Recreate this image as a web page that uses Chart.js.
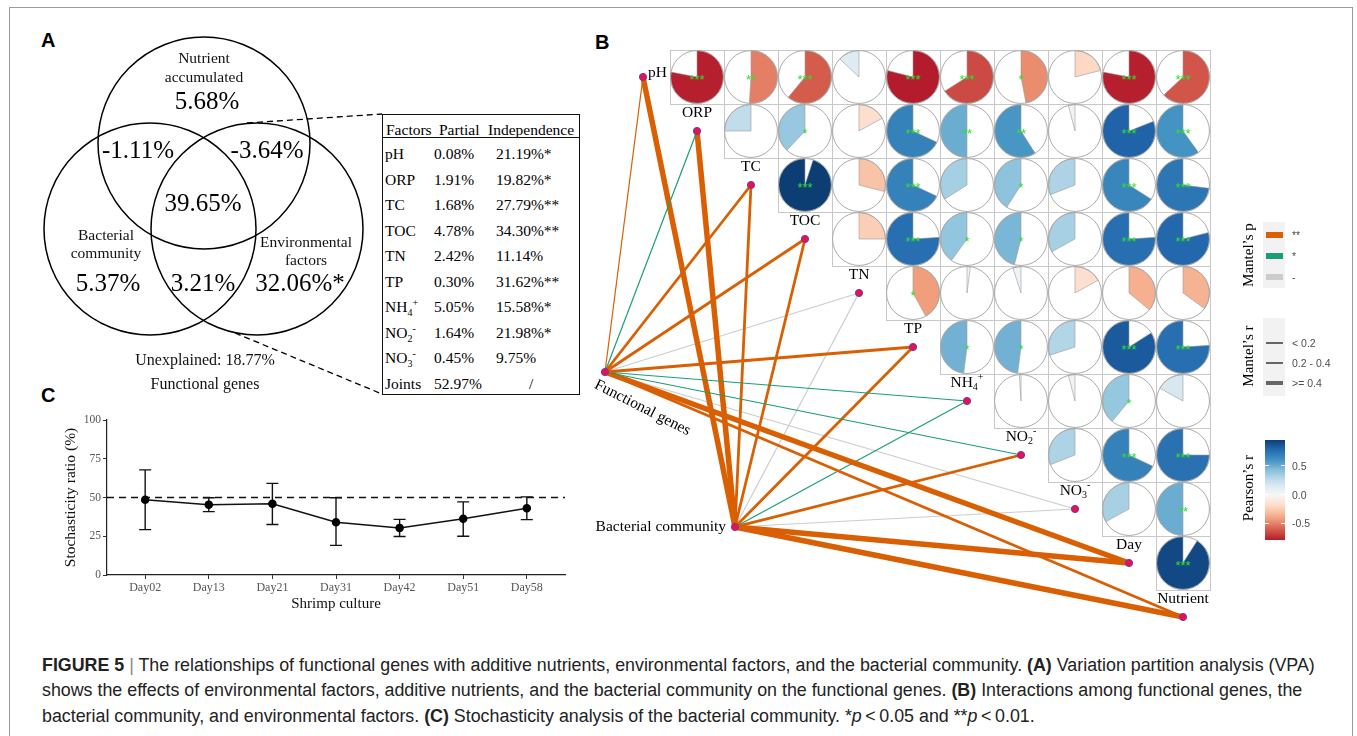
<!DOCTYPE html>
<html>
<head>
<meta charset="utf-8">
<title>Figure 5</title>
<script src="https://cdn.jsdelivr.net/npm/chart.js@4.4.1/dist/chart.umd.min.js"></script>
<style>
  html, body { margin: 0; padding: 0; background: #fff; }
  body { width: 1357px; height: 736px; position: relative; overflow: hidden; font-family: "Liberation Serif", "Times New Roman", serif; color: #000; }
  .abs { position: absolute; }
  #frame { left: 9px; top: 7px; width: 1344px; height: 800px; border: 1px solid #9b9b9b; box-sizing: border-box; }
  .panel { position: absolute; font: bold 20px "Liberation Sans", Arial, sans-serif; line-height: 20px; }
  #tbl { left: 382px; top: 114px; width: 198px; height: 281px; border: 1.4px solid #111; box-sizing: border-box; font-size: 15.5px; background: #fff; }
  #tbl .cell { position: absolute; white-space: nowrap; line-height: 20px; height: 20px; }
  #tbl .rule { position: absolute; left: 0; right: 0; top: 22px; border-top: 1px solid #111; }
  .sb { font-size: 10px; position: relative; top: 4px; }
  .sp { font-size: 10px; position: relative; top: -6px; }
  canvas { position: absolute; }
  .lgt { position: absolute; white-space: nowrap; font-size: 15px; line-height: 16px; transform: translate(-50%, -50%) rotate(-90deg); }
  .lgl { position: absolute; white-space: nowrap; font: 10.5px "Liberation Sans", Arial, sans-serif; color: #4d4d4d; line-height: 12px; }
  .lgbg { position: absolute; background: #f2f2f2; }
  .cap { position: absolute; left: 42px; white-space: nowrap; font: 16px "Liberation Sans", Arial, sans-serif; color: #222; line-height: 20px; }
</style>
</head>
<body>
<div id="frame" class="abs"></div>
<div class="panel" style="left:41px;top:30px">A</div>
<div class="panel" style="left:595px;top:32px">B</div>
<div class="panel" style="left:41px;top:385px">C</div>

<canvas id="chartA" width="360" height="380" style="left:30px;top:30px"></canvas>
<div id="tbl" class="abs"></div>
<canvas id="chartB" width="777" height="610" style="left:580px;top:30px"></canvas>
<canvas id="chartC" width="535" height="215" style="left:40px;top:405px"></canvas>
<div id="legendB"></div>
<div id="caption"></div>

<script>
// ---- panel A : variation partitioning ----
const vennRegions = ['N', 'NB', 'NE', 'NBE', 'B', 'BE', 'E'];
const vennPercent = ['5.68%', '-1.11%', '-3.64%', '39.65%', '5.37%', '3.21%', '32.06%*'];
const vennSetNames = [['Nutrient', 'accumulated'], ['Bacterial', 'community'], ['Environmental', 'factors']];
const unexplained = 'Unexplained: 18.77%';
const responseName = 'Functional genes';

const factorNames = ['pH', 'ORP', 'TC', 'TOC', 'TN', 'TP', 'NH4+', 'NO2-', 'NO3-', 'Joints'];
const partialVals = ['0.08%', '1.91%', '1.68%', '4.78%', '2.42%', '0.30%', '5.05%', '1.64%', '0.45%', '52.97%'];
const independenceVals = ['21.19%*', '19.82%*', '27.79%**', '34.30%**', '11.14%', '31.62%**', '15.58%*', '21.98%*', '9.75%', '/'];

// ---- panel B : Mantel test + Pearson correlogram ----
const envVars = ['pH', 'ORP', 'TC', 'TOC', 'TN', 'TP', 'NH4+', 'NO2-', 'NO3-', 'Day', 'Nutrient'];
// upper triangle, row i holds r(i, j) for j > i
const pearsonRows = [
  [-0.78, -0.51, -0.61, 0.13, -0.79, -0.66, -0.47, -0.21, -0.78, -0.63],
  [0.25, 0.38, -0.17, 0.68, 0.50, 0.59, 0.04, 0.81, 0.60],
  [0.95, -0.29, 0.68, 0.34, 0.41, 0.31, 0.66, 0.73],
  [-0.25, 0.76, 0.40, 0.46, 0.33, 0.76, 0.79],
  [-0.42, -0.02, 0.05, -0.17, -0.36, -0.35],
  [0.48, 0.48, 0.30, 0.84, 0.76],
  [0.01, 0.04, 0.39, 0.17],
  [0.31, 0.68, 0.75],
  [0.33, 0.50],
  [0.91]
];
const pearsonStars = [
  ['***', '**', '***', '', '***', '***', '*', '', '***', '***'],
  ['', '*', '', '***', '**', '**', '', '***', '***'],
  ['***', '', '***', '', '*', '', '***', '***'],
  ['', '***', '*', '*', '', '***', '***'],
  ['*', '', '', '', '', ''],
  ['*', '*', '', '***', '***'],
  ['', '', '*', ''],
  ['', '***', '***'],
  ['', '**'],
  ['***']
];
const fgMantelP = ['**', '*', '**', '**', '-', '**', '*', '*', '-', '**', '**'];
const fgMantelR = ['<0.2', '<0.2', '0.2-0.4', '0.2-0.4', '<0.2', '0.2-0.4', '<0.2', '<0.2', '<0.2', '>=0.4', '0.2-0.4'];
const bcMantelP = ['**', '**', '**', '**', '-', '**', '*', '**', '-', '**', '**'];
const bcMantelR = ['>=0.4', '>=0.4', '0.2-0.4', '0.2-0.4', '<0.2', '0.2-0.4', '<0.2', '0.2-0.4', '<0.2', '>=0.4', '>=0.4'];
const mantelPLevels = ['**', '*', '-'];
const mantelRLevels = ['<0.2', '0.2-0.4', '>=0.4'];
const mantelRLabels = ['< 0.2', '0.2 - 0.4', '>= 0.4'];
const pearsonTicks = [0.5, 0.0, -0.5];

// ---- panel C : stochasticity ----
const days = ['Day02', 'Day13', 'Day21', 'Day31', 'Day42', 'Day51', 'Day58'];
const stochMean = [48.5, 45.4, 45.9, 34.1, 30.4, 36.3, 43.0];
const stochUpper = [67.8, 49.8, 59.1, 49.8, 35.9, 47.2, 50.4];
const stochLower = [29.3, 40.9, 32.6, 19.1, 24.8, 25.0, 35.7];
const refLevel = 50;

Chart.defaults.font.family = '"Liberation Serif", "Times New Roman", serif';
Chart.defaults.color = '#000';

const SERIF = '"Liberation Serif", "Times New Roman", serif';
const SANS = '"Liberation Sans", Arial, sans-serif';

const rdbu = [[-1, '#67001f'], [-0.8, '#b2182b'], [-0.6, '#d6604d'], [-0.4, '#f4a582'], [-0.2, '#fddbc7'], [0, '#f7f7f7'],
  [0.2, '#d1e5f0'], [0.4, '#92c5de'], [0.6, '#4393c3'], [0.8, '#2166ac'], [1, '#053061']];
function hex2rgb(h) { return [1, 3, 5].map(i => parseInt(h.substr(i, 2), 16)); }
function corrColor(r) {
  r = Math.max(-1, Math.min(1, r));
  for (let i = 0; i < rdbu.length - 1; i++) {
    const [a, ca] = rdbu[i], [b, cb] = rdbu[i + 1];
    if (r <= b) {
      const t = (r - a) / (b - a), A = hex2rgb(ca), B = hex2rgb(cb);
      return 'rgb(' + A.map((v, k) => Math.round(v + (B[k] - v) * t)).join(',') + ')';
    }
  }
  return rdbu[rdbu.length - 1][1];
}

function richSegs(name) {
  const m = name.match(/^([A-Za-z]+)(\d)([+-])$/);
  if (!m) return [{ t: name }];
  return [{ t: m[1] }, { t: m[2], sub: true }, { t: m[3], sup: true }];
}
function richHTML(name) {
  const m = name.match(/^([A-Za-z]+)(\d)([+-])$/);
  if (!m) return name;
  return m[1] + '<span class="sb">' + m[2] + '</span><span class="sp">' + m[3] + '</span>';
}
function drawRich(ctx, name, x, y, size, align) {
  const segs = richSegs(name);
  const big = size + 'px ' + SERIF, small = Math.round(size * 0.66) + 'px ' + SERIF;
  let w = 0;
  segs.forEach(s => { ctx.font = (s.sub || s.sup) ? small : big; s.w = ctx.measureText(s.t).width; w += s.w; });
  let cx = align === 'center' ? x - w / 2 : align === 'right' ? x - w : x;
  ctx.textAlign = 'left';
  ctx.textBaseline = 'middle';
  segs.forEach(s => {
    ctx.font = (s.sub || s.sup) ? small : big;
    ctx.fillText(s.t, cx, y + (s.sub ? size * 0.3 : s.sup ? -size * 0.36 : 0));
    cx += s.w;
  });
}

// ================= Panel A =================
const vennLayout = {
  circles: [[204, 143], [150, 229], [257, 229]], radius: 106,
  valuePos: { N: [207, 102], NB: [138, 151], NE: [267, 151], NBE: [203, 204], B: [108, 284], BE: [203, 284], E: [300, 284] },
  namePos: [[[204, 59], [204, 78]], [[106, 236], [106, 254]], [[306, 243], [306, 261]]],
  dashes: [[[247, 123], [382, 114]], [[235, 333], [382, 394]]]
};

const vennPlugin = {
  id: 'venn',
  afterDraw(chart) {
    const { ctx, scales: { x, y } } = chart;
    const px = v => x.getPixelForValue(v), py = v => y.getPixelForValue(v);
    const rad = px(vennLayout.radius) - px(0);
    ctx.save();
    ctx.strokeStyle = '#000';
    ctx.lineWidth = 1.5;
    vennLayout.circles.forEach(([cx, cy]) => {
      ctx.beginPath();
      ctx.arc(px(cx), py(cy), rad, 0, Math.PI * 2);
      ctx.stroke();
    });
    ctx.setLineDash([6, 4]);
    ctx.lineWidth = 1.3;
    vennLayout.dashes.forEach(([a, b]) => {
      ctx.beginPath();
      ctx.moveTo(px(a[0]), py(a[1]));
      ctx.lineTo(px(b[0]), py(b[1]));
      ctx.stroke();
    });
    ctx.setLineDash([]);
    ctx.fillStyle = '#000';
    ctx.textAlign = 'center';
    ctx.textBaseline = 'middle';
    ctx.font = '25px ' + SERIF;
    vennRegions.forEach((reg, i) => {
      const [vx, vy] = vennLayout.valuePos[reg];
      ctx.fillText(vennPercent[i], px(vx), py(vy));
    });
    ctx.font = '15.5px ' + SERIF;
    ctx.fillStyle = '#111';
    vennSetNames.forEach((lines, i) => lines.forEach((t, k) => {
      const [tx, ty] = vennLayout.namePos[i][k];
      ctx.fillText(t, px(tx), py(ty));
    }));
    ctx.font = '16px ' + SERIF;
    ctx.fillText(unexplained, px(205), py(361));
    ctx.fillText(responseName, px(205), py(385));
    ctx.restore();
  }
};

new Chart(document.getElementById('chartA'), {
  type: 'scatter',
  data: { datasets: [] },
  options: {
    responsive: false, animation: false, events: [],
    layout: { padding: 0, autoPadding: false },
    plugins: { legend: { display: false }, tooltip: { enabled: false } },
    scales: {
      x: { display: false, min: 30, max: 390 },
      y: { display: false, min: 30, max: 410, reverse: true }
    }
  },
  plugins: [vennPlugin]
});

// table
(function () {
  const tbl = document.getElementById('tbl');
  let html = '<div class="rule"></div>';
  html += '<div class="cell" style="left:3px;top:5px">Factors</div>';
  html += '<div class="cell" style="left:56px;top:5px">Partial</div>';
  html += '<div class="cell" style="left:105px;top:5px">Independence</div>';
  factorNames.forEach((f, i) => {
    const top = 29 + 25.5 * i;
    html += '<div class="cell" style="left:2px;top:' + top + 'px">' + richHTML(f) + '</div>';
    html += '<div class="cell" style="left:51px;top:' + top + 'px">' + partialVals[i] + '</div>';
    const iv = independenceVals[i];
    html += iv === '/'
      ? '<div class="cell" style="left:146px;top:' + top + 'px">/</div>'
      : '<div class="cell" style="left:113px;top:' + top + 'px">' + iv + '</div>';
  });
  tbl.innerHTML = html;
})();

// ================= Panel B =================
const cell = 54;                         // px per grid unit
const originB = { x: 63, y: 47 };          // canvas px of grid unit (0,0)
const nodeFG = { x: -0.704, y: 5.463 };
const nodeBC = { x: 1.704, y: 8.333 };
const edgeColor = { '**': '#d95f02', '*': '#1b9e77', '-': '#cccccc' };
const edgeWidth = { '<0.2': 1.2, '0.2-0.4': 2.8, '>=0.4': 5.5 };

const bDatasets = [];
[[nodeFG, fgMantelP, fgMantelR], [nodeBC, bcMantelP, bcMantelR]].forEach(([src, ps, rs]) => {
  envVars.forEach((v, k) => {
    bDatasets.push({
      data: [{ x: src.x, y: src.y }, { x: k, y: k }],
      showLine: true, pointRadius: 0, tension: 0,
      borderColor: edgeColor[ps[k]], borderWidth: edgeWidth[rs[k]],
      order: ps[k] === '-' ? 3 : 2
    });
  });
});
bDatasets.push({
  data: [{ x: nodeFG.x, y: nodeFG.y }, { x: nodeBC.x, y: nodeBC.y }].concat(envVars.map((v, k) => ({ x: k, y: k }))),
  showLine: false, pointRadius: 3.6, pointBackgroundColor: '#e8124f', pointBorderColor: '#6d3aa8', pointBorderWidth: 1, order: 0
});

const corrPlugin = {
  id: 'corrGrid',
  beforeDatasetsDraw(chart) {
    const { ctx, scales: { x, y } } = chart;
    const unit = x.getPixelForValue(1) - x.getPixelForValue(0);
    ctx.save();
    ctx.strokeStyle = '#c8c8c8';
    ctx.lineWidth = 1;
    pearsonRows.forEach((row, i) => row.forEach((r, n) => {
      const j = i + 1 + n;
      const cx = x.getPixelForValue(j), cy = y.getPixelForValue(i);
      ctx.strokeRect(Math.round(cx - unit / 2) + 0.5, Math.round(cy - unit / 2) + 0.5, unit, unit);
    }));
    const rad = unit * 0.49;
    pearsonRows.forEach((row, i) => row.forEach((r, n) => {
      const j = i + 1 + n;
      const cx = x.getPixelForValue(j), cy = y.getPixelForValue(i);
      ctx.beginPath();
      ctx.arc(cx, cy, rad, 0, Math.PI * 2);
      ctx.fillStyle = '#fff';
      ctx.fill();
      const a0 = -Math.PI / 2, sweep = Math.abs(r) * Math.PI * 2;
      ctx.beginPath();
      ctx.moveTo(cx, cy);
      if (r < 0) ctx.arc(cx, cy, rad, a0, a0 + sweep, false);
      else ctx.arc(cx, cy, rad, a0, a0 - sweep, true);
      ctx.closePath();
      ctx.fillStyle = corrColor(r);
      ctx.fill();
      ctx.strokeStyle = '#9a9a9a';
      ctx.lineWidth = 0.6;
      ctx.stroke();
      ctx.beginPath();
      ctx.arc(cx, cy, rad, 0, Math.PI * 2);
      ctx.strokeStyle = '#aaaaaa';
      ctx.lineWidth = 1;
      ctx.stroke();
    }));
    ctx.restore();
  },
  afterDatasetsDraw(chart) {
    const { ctx, scales: { x, y } } = chart;
    ctx.save();
    // significance stars
    ctx.font = '13px ' + SANS;
    ctx.fillStyle = '#2fe02f';
    ctx.textAlign = 'center';
    ctx.textBaseline = 'alphabetic';
    pearsonStars.forEach((row, i) => row.forEach((s, n) => {
      if (!s) return;
      const j = i + 1 + n;
      const m = ctx.measureText(s);
      const cx = x.getPixelForValue(j), cy = y.getPixelForValue(i);
      ctx.fillText(s, cx, cy + (m.actualBoundingBoxAscent - m.actualBoundingBoxDescent) / 2);
    }));
    // variable labels
    ctx.fillStyle = '#000';
    envVars.forEach((v, k) => {
      const nx = x.getPixelForValue(k), ny = y.getPixelForValue(k);
      if (k === 0) drawRich(ctx, v, nx + 5, ny - 4, 15.5, 'left');
      else drawRich(ctx, v, nx, ny - 18, 15.5, 'center');
    });
    // source labels
    const fx = x.getPixelForValue(nodeFG.x), fy = y.getPixelForValue(nodeFG.y);
    ctx.save();
    ctx.translate(fx - 6, fy + 5);
    ctx.rotate(27 * Math.PI / 180);
    ctx.font = '15.5px ' + SERIF;
    ctx.textAlign = 'left';
    ctx.textBaseline = 'top';
    ctx.fillText(responseName, 0, 0);
    ctx.restore();
    const bx = x.getPixelForValue(nodeBC.x), by = y.getPixelForValue(nodeBC.y);
    ctx.font = '15.5px ' + SERIF;
    ctx.textAlign = 'right';
    ctx.textBaseline = 'middle';
    ctx.fillText('Bacterial community', bx - 9, by);
    ctx.restore();
  }
};

const cB = document.getElementById('chartB');
new Chart(cB, {
  type: 'scatter',
  data: { datasets: bDatasets },
  options: {
    responsive: false, animation: false, events: [],
    layout: { padding: 0, autoPadding: false },
    plugins: { legend: { display: false }, tooltip: { enabled: false } },
    scales: {
      x: { display: false, min: -originB.x / cell, max: (cB.width - originB.x) / cell },
      y: { display: false, reverse: true, min: -originB.y / cell, max: (cB.height - originB.y) / cell }
    }
  },
  plugins: [corrPlugin]
});

// legend of panel B
(function () {
  const lg = document.getElementById('legendB');
  let h = '';
  h += '<div class="lgt" style="left:1248px;top:255px">Mantel\u2019s p</div>';
  h += '<div class="lgbg" style="left:1263px;top:222px;width:22px;height:66px"></div>';
  mantelPLevels.forEach((p, i) => {
    const cy = 235 + 21 * i;
    h += '<div class="abs" style="left:1266px;top:' + (cy - 3) + 'px;width:17px;height:6px;background:' + edgeColor[p] + '"></div>';
    h += '<div class="lgl" style="left:1292px;top:' + (cy - 6) + 'px">' + p + '</div>';
  });
  h += '<div class="lgt" style="left:1248px;top:356px">Mantel\u2019s r</div>';
  h += '<div class="lgbg" style="left:1263px;top:318px;width:22px;height:78px"></div>';
  mantelRLevels.forEach((r, i) => {
    const cy = 343 + 20 * i, w = [1.3, 2.6, 4.6][i];
    h += '<div class="abs" style="left:1266px;top:' + (cy - w / 2) + 'px;width:17px;height:' + w + 'px;background:#666"></div>';
    h += '<div class="lgl" style="left:1292px;top:' + (cy - 6) + 'px">' + mantelRLabels[i] + '</div>';
  });
  const all = pearsonRows.flat();
  const vmax = Math.max(...all), vmin = Math.min(...all);
  const barTop = 440, barH = 100;
  const stops = [];
  for (let s = 0; s <= 20; s++) {
    const v = vmax - (vmax - vmin) * s / 20;
    stops.push(corrColor(v) + ' ' + (s * 5) + '%');
  }
  h += '<div class="lgt" style="left:1248px;top:488px">Pearson\u2019s r</div>';
  h += '<div class="abs" style="left:1265px;top:' + barTop + 'px;width:20px;height:' + barH + 'px;background:linear-gradient(to bottom,' + stops.join(',') + ')"></div>';
  pearsonTicks.forEach(t => {
    const ty = barTop + (vmax - t) / (vmax - vmin) * barH;
    h += '<div class="abs" style="left:1265px;top:' + (ty - 0.5) + 'px;width:4px;height:1px;background:#fff"></div>';
    h += '<div class="abs" style="left:1281px;top:' + (ty - 0.5) + 'px;width:4px;height:1px;background:#fff"></div>';
    h += '<div class="lgl" style="left:1292px;top:' + (ty - 6) + 'px">' + t.toFixed(1) + '</div>';
  });
  lg.innerHTML = h;
})();

// ================= Panel C =================
const errorBars = {
  id: 'errorBars',
  beforeDatasetsDraw(chart) {
    const { ctx, scales: { x, y } } = chart;
    ctx.save();
    ctx.strokeStyle = '#111';
    ctx.lineWidth = 1.4;
    stochMean.forEach((m, i) => {
      const px = x.getPixelForValue(i), top = y.getPixelForValue(stochUpper[i]), bot = y.getPixelForValue(stochLower[i]);
      ctx.beginPath();
      ctx.moveTo(px, top); ctx.lineTo(px, bot);
      ctx.moveTo(px - 6, top); ctx.lineTo(px + 6, top);
      ctx.moveTo(px - 6, bot); ctx.lineTo(px + 6, bot);
      ctx.stroke();
    });
    ctx.restore();
  }
};

new Chart(document.getElementById('chartC'), {
  type: 'line',
  data: {
    datasets: [
      { data: stochMean.map((v, i) => ({ x: i, y: v })), borderColor: '#111', borderWidth: 1.5, tension: 0,
        pointRadius: 3.5, pointBackgroundColor: '#000', pointBorderColor: '#000' },
      { data: [{ x: -0.6, y: refLevel }, { x: days.length - 0.4, y: refLevel }], borderColor: '#111', borderWidth: 1.5,
        borderDash: [7, 5], pointRadius: 0 }
    ]
  },
  options: {
    responsive: false, animation: false, events: [],
    layout: { padding: { top: 15, right: 10, left: 0, bottom: 0 }, autoPadding: false },
    plugins: { legend: { display: false }, tooltip: { enabled: false } },
    scales: {
      x: {
        type: 'linear', min: -0.6, max: days.length - 0.4,
        afterBuildTicks: s => { s.ticks = days.map((d, i) => ({ value: i })); },
        afterFit: s => { s.height = 45; },
        ticks: { callback: v => days[v], color: '#555', font: { family: SERIF, size: 12 }, padding: 2, maxRotation: 0, autoSkip: false },
        grid: { drawOnChartArea: false, drawTicks: true, tickLength: 4, color: '#333' },
        border: { color: '#222', width: 1.2 },
        title: { display: true, text: 'Shrimp culture', color: '#111', font: { family: SERIF, size: 15 }, padding: { top: 0, bottom: 7 } }
      },
      y: {
        min: 0, max: 100,
        ticks: { stepSize: 25, color: '#555', font: { family: SERIF, size: 11.5 }, padding: 2 },
        afterFit: s => { s.width = 67; },
        grid: { drawOnChartArea: false, drawTicks: true, tickLength: 4, color: '#333' },
        border: { color: '#222', width: 1.2 },
        title: { display: true, text: 'Stochasticity ratio (%)', color: '#111', font: { family: SERIF, size: 15.5 }, padding: { top: 22, bottom: 0 } }
      }
    }
  },
  plugins: [errorBars]
});

// ================= Caption =================
(function () {
  const lines = [
    '<b>FIGURE 5</b> <span style="color:#888">|</span> The relationships of functional genes with additive nutrients, environmental factors, and the bacterial community. <b>(A)</b> Variation partition analysis (VPA)',
    'shows the effects of environmental factors, additive nutrients, and the bacterial community on the functional genes. <b>(B)</b> Interactions among functional genes, the',
    'bacterial community, and environmental factors. <b>(C)</b> Stochasticity analysis of the bacterial community. *<i>p</i>&thinsp;&lt;&thinsp;0.05 and **<i>p</i>&thinsp;&lt;&thinsp;0.01.'
  ];
  const centers = [665, 690, 716];
  const cap = document.getElementById('caption');
  cap.innerHTML = lines.map((l, i) => '<div class="cap" style="top:' + (centers[i] - 10) + 'px">' + l + '</div>').join('');
  const first = cap.firstChild;
  const target = 1315 - 42;
  const f = 16 * target / first.getBoundingClientRect().width;
  cap.querySelectorAll('.cap').forEach(d => { d.style.fontSize = f + 'px'; });
})();
</script>
</body>
</html>
